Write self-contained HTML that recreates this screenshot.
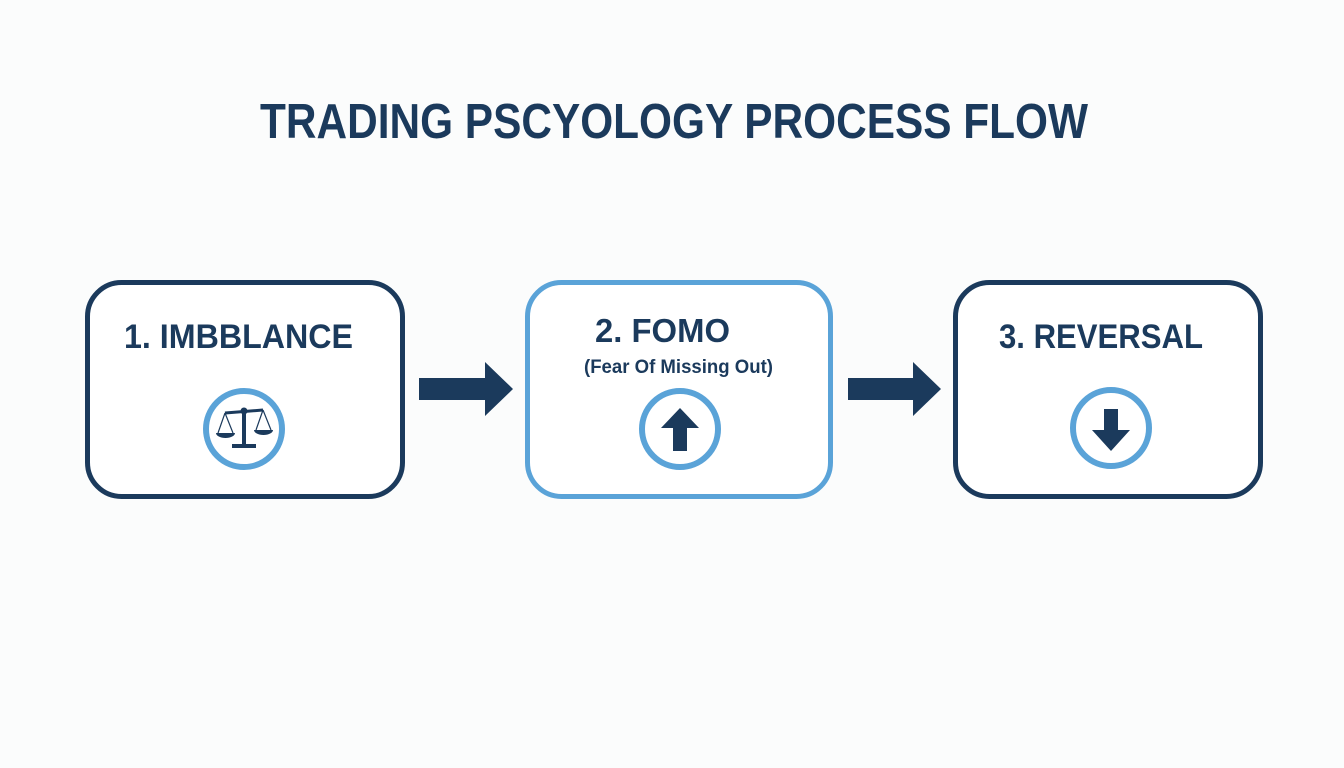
<!DOCTYPE html>
<html><head><meta charset="utf-8"><style>html,body{margin:0;padding:0;background:#fbfcfc}svg{display:block}</style></head>
<body>
<svg width="1344" height="768" viewBox="0 0 1344 768" xmlns="http://www.w3.org/2000/svg" font-family="Liberation Sans, sans-serif" font-weight="bold" fill="#1b3a5c">
<rect width="1344" height="768" fill="#fbfcfc"/>
<text x="260" y="138" font-size="49" textLength="828" lengthAdjust="spacingAndGlyphs">TRADING PSCYOLOGY PROCESS FLOW</text>

<rect x="87.5" y="282.5" width="315" height="214" rx="34" fill="#fff" stroke="#1b3a5c" stroke-width="5"/>
<rect x="527.5" y="282.5" width="303" height="214" rx="34" fill="#fff" stroke="#5aa3d8" stroke-width="5"/>
<rect x="955.5" y="282.5" width="305" height="214" rx="34" fill="#fff" stroke="#1b3a5c" stroke-width="5"/>

<text x="124" y="348" font-size="34" textLength="229" lengthAdjust="spacingAndGlyphs">1. IMBBLANCE</text>
<text x="595" y="342" font-size="33" textLength="135" lengthAdjust="spacingAndGlyphs">2. FOMO</text>
<text x="584" y="373" font-size="19" textLength="189" lengthAdjust="spacingAndGlyphs">(Fear Of Missing Out)</text>
<text x="999" y="348" font-size="34" textLength="204" lengthAdjust="spacingAndGlyphs">3. REVERSAL</text>

<polygon points="419,378 485,378 485,362 513,389 485,416 485,400 419,400" fill="#1b3a5c"/>
<polygon points="848,378 913,378 913,362 941,389 913,416 913,400 848,400" fill="#1b3a5c"/>

<circle cx="244" cy="429" r="38" fill="#fff" stroke="#5aa3d8" stroke-width="6"/>
<g fill="#1b3a5c" stroke="#1b3a5c">
<line x1="225" y1="413" x2="263" y2="410" stroke-width="3"/>
<circle cx="244" cy="411" r="3"/>
<rect x="242" y="411" width="4" height="34" stroke="none"/>
<rect x="232" y="444" width="24" height="4" stroke="none"/>
<line x1="225" y1="413" x2="218" y2="433" stroke-width="1.2"/>
<line x1="225" y1="413" x2="233" y2="433" stroke-width="1.2"/>
<line x1="263" y1="410" x2="256" y2="430" stroke-width="1.2"/>
<line x1="263" y1="410" x2="271" y2="430" stroke-width="1.2"/>
<path d="M216 433 H235 A9.5 5 0 0 1 216 433 Z" stroke="none"/>
<path d="M254 430 H273 A9.5 5 0 0 1 254 430 Z" stroke="none"/>
</g>

<circle cx="680" cy="429" r="38" fill="#fff" stroke="#5aa3d8" stroke-width="6"/>
<polygon points="680,408 699,428 687,428 687,451 673,451 673,428 661,428" fill="#1b3a5c"/>

<circle cx="1111" cy="428" r="38" fill="#fff" stroke="#5aa3d8" stroke-width="6"/>
<polygon points="1104,409 1118,409 1118,430 1130,430 1111,451 1092,430 1104,430" fill="#1b3a5c"/>
</svg>
</body></html>
